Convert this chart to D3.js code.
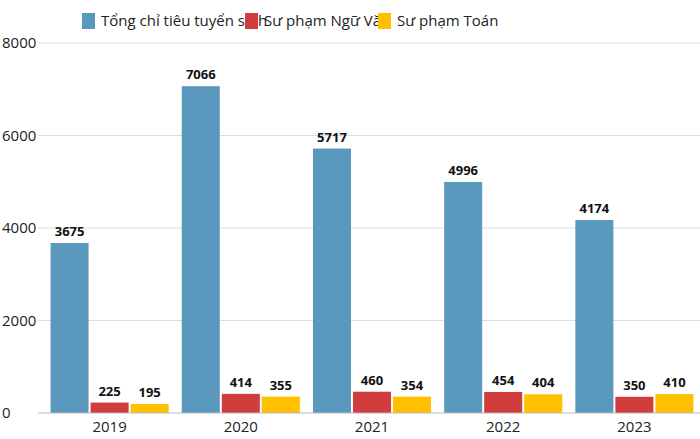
<!DOCTYPE html>
<html><head><meta charset="utf-8">
<script src="https://cdn.jsdelivr.net/npm/d3@7"></script>
<style>body{margin:0;background:#fff}text{font-family:"Open Sans",sans-serif}</style>
</head><body><svg id="c" width="700" height="439"></svg>
<script>
const years = ["2019","2020","2021","2022","2023"];
const seriesNames = ["Tổng chỉ tiêu tuyển sinh","Sư phạm Ngữ Văn","Sư phạm Toán"];
const tong = [3675,7066,5717,4996,4174];
const van = [225,414,460,454,350];
const toan = [195,355,354,404,410];
const yTicks = [0,2000,4000,6000,8000];
const colors = ["#5b98be","#d13c3c","#ffc000"];
const values = [tong, van, toan];

const svg = d3.select("#c");
const x = d3.scaleBand().domain(years).range([44,700]).paddingInner(0.1).paddingOuter(0.05);
const y = d3.scaleLinear().domain([0,8000]).range([413,43]);
const xs = d3.scaleBand().domain([0,1,2]).range([0,x.bandwidth()]).paddingInner(0.05);

svg.append("g").selectAll("line").data(yTicks.filter(d=>d>0)).join("line")
 .attr("x1",38).attr("x2",700).attr("y1",d=>y(d)).attr("y2",d=>y(d))
 .attr("stroke","#dcdcdc").attr("stroke-width",1);
svg.append("g").selectAll("text").data(yTicks).join("text")
 .attr("x",2).attr("y",d=>y(d)+5).attr("font-size",15).attr("fill","#222").text(d=>d);

years.forEach((yr,i)=>{
  values.forEach((arr,s)=>{
    const bx = x(yr)+xs(s), v = arr[i];
    svg.append("rect").attr("x",bx).attr("y",y(v)).attr("width",xs.bandwidth())
      .attr("height",y(0)-y(v)).attr("fill",colors[s]);
    svg.append("text").attr("x",bx+xs.bandwidth()/2).attr("y",y(v)-7)
      .attr("text-anchor","middle").attr("font-size",13).attr("font-weight","bold")
      .attr("fill","#111").text(v);
  });
  svg.append("text").attr("x",x(yr)+x.bandwidth()/2).attr("y",432)
   .attr("text-anchor","middle").attr("font-size",15).attr("fill","#222").text(yr);
});
svg.append("line").attr("x1",38).attr("x2",700).attr("y1",y(0)).attr("y2",y(0)).attr("stroke","#bbb");

const lx = [82,245,378];
seriesNames.forEach((n,i)=>{
  svg.append("rect").attr("x",lx[i]).attr("y",13).attr("width",13).attr("height",16).attr("fill",colors[i]);
  svg.append("text").attr("x",lx[i]+19).attr("y",26).attr("font-size",15).attr("fill","#222").text(n);
});
</script></body></html>
